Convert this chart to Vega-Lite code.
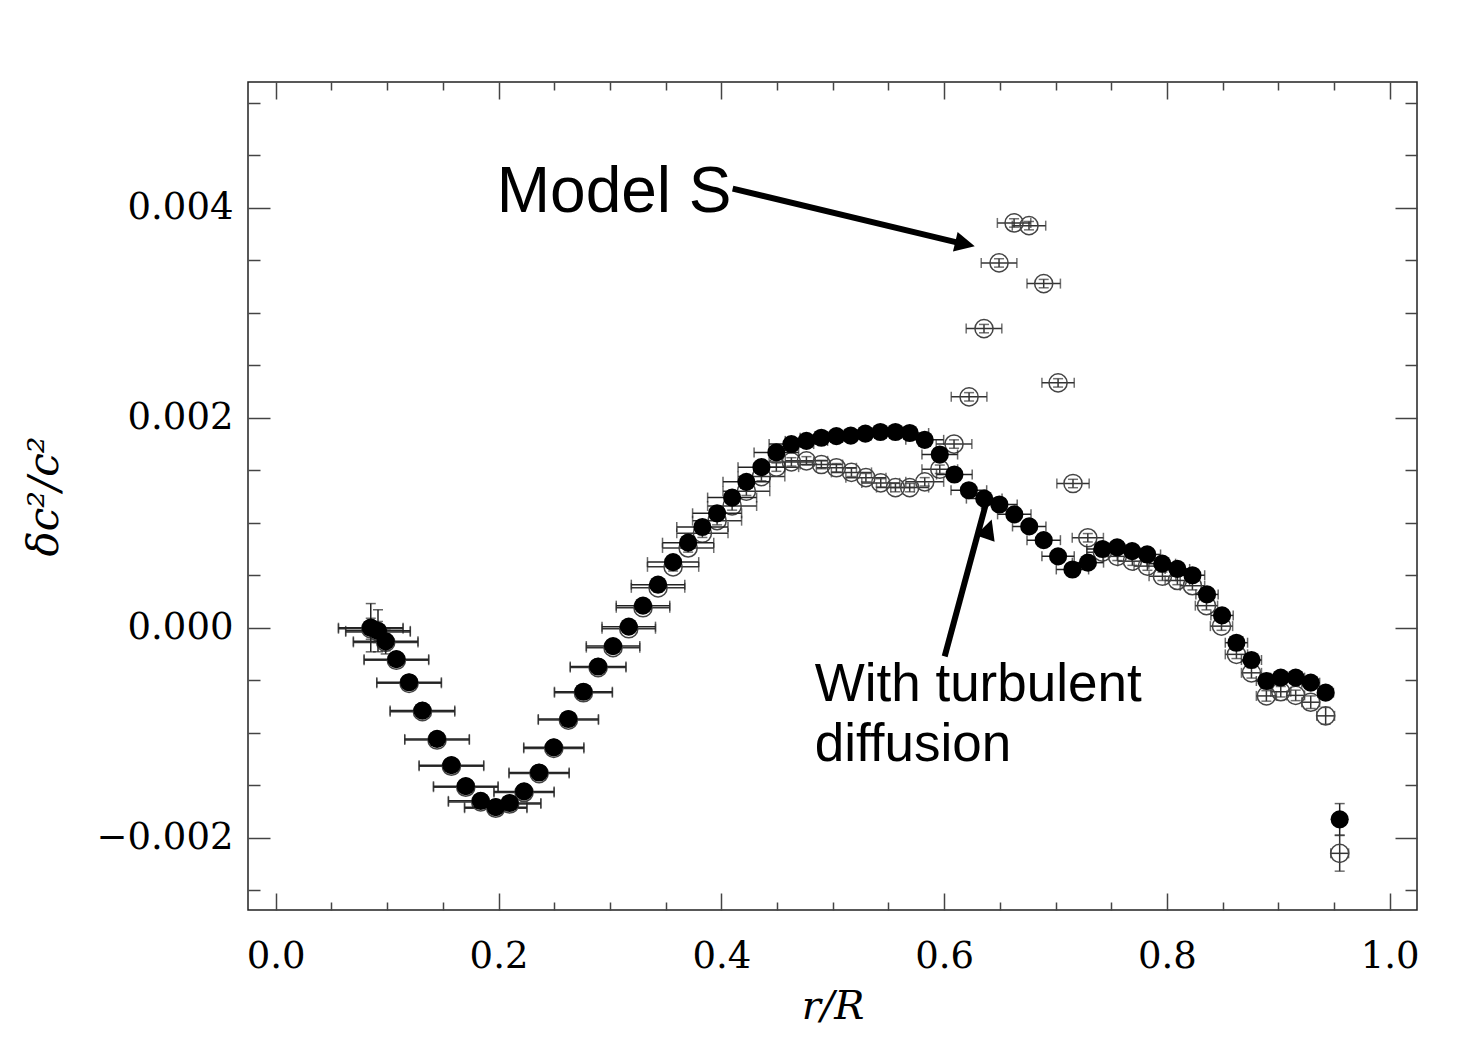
{
  "$schema": "https://vega.github.io/schema/vega-lite/v6.json",
  "width": 1169,
  "height": 828,
  "autosize": {"type": "none"},
  "padding": {"left": 248, "top": 82, "right": 63, "bottom": 149},
  "background": "white",
  "config": {"view": {"stroke": "#222", "strokeWidth": 1.5}},
  "datasets": {
    "open": [
      {"r": 0.0853, "v": -0.00001, "dr": 0.029, "dv": 0.0001},
      {"r": 0.0918, "v": -0.00004, "dr": 0.029, "dv": 0.0001},
      {"r": 0.0987, "v": -0.00014, "dr": 0.029, "dv": 0.00008},
      {"r": 0.1083, "v": -0.00031, "dr": 0.029, "dv": 0.00005},
      {"r": 0.1197, "v": -0.00053, "dr": 0.029, "dv": 0.00004},
      {"r": 0.1317, "v": -0.0008, "dr": 0.029, "dv": 0.00004},
      {"r": 0.1448, "v": -0.00107, "dr": 0.029, "dv": 0.00004},
      {"r": 0.1577, "v": -0.00132, "dr": 0.029, "dv": 0.00004},
      {"r": 0.1706, "v": -0.00152, "dr": 0.029, "dv": 0.00004},
      {"r": 0.184, "v": -0.00166, "dr": 0.029, "dv": 0.00004},
      {"r": 0.1975, "v": -0.00172, "dr": 0.028, "dv": 0.00004},
      {"r": 0.21, "v": -0.00168, "dr": 0.028, "dv": 0.00004},
      {"r": 0.2229, "v": -0.00157, "dr": 0.027, "dv": 0.00004},
      {"r": 0.2364, "v": -0.00139, "dr": 0.027, "dv": 0.00004},
      {"r": 0.2496, "v": -0.00115, "dr": 0.027, "dv": 0.00004},
      {"r": 0.2627, "v": -0.00088, "dr": 0.027, "dv": 0.00004},
      {"r": 0.2762, "v": -0.00062, "dr": 0.026, "dv": 0.00004},
      {"r": 0.2894, "v": -0.00038, "dr": 0.025, "dv": 0.00004},
      {"r": 0.3028, "v": -0.00019, "dr": 0.024, "dv": 0.00004},
      {"r": 0.3169, "v": -0.00001, "dr": 0.024, "dv": 0.00004},
      {"r": 0.3297, "v": 0.00019, "dr": 0.024, "dv": 0.00004},
      {"r": 0.3432, "v": 0.00038, "dr": 0.024, "dv": 0.00004},
      {"r": 0.3567, "v": 0.00058, "dr": 0.023, "dv": 0.00004},
      {"r": 0.3702, "v": 0.00076, "dr": 0.023, "dv": 0.00004},
      {"r": 0.383, "v": 0.0009, "dr": 0.023, "dv": 0.00004},
      {"r": 0.3962, "v": 0.00102, "dr": 0.022, "dv": 0.00004},
      {"r": 0.4097, "v": 0.00116, "dr": 0.022, "dv": 0.00004},
      {"r": 0.4225, "v": 0.0013, "dr": 0.021, "dv": 0.00004},
      {"r": 0.436, "v": 0.00144, "dr": 0.021, "dv": 0.00004},
      {"r": 0.4494, "v": 0.00153, "dr": 0.02, "dv": 0.00004},
      {"r": 0.4629, "v": 0.00158, "dr": 0.02, "dv": 0.00004},
      {"r": 0.4764, "v": 0.00159, "dr": 0.019, "dv": 0.00004},
      {"r": 0.4898, "v": 0.001555, "dr": 0.019, "dv": 0.00004},
      {"r": 0.5033, "v": 0.001524, "dr": 0.018, "dv": 0.00004},
      {"r": 0.5168, "v": 0.00148, "dr": 0.018, "dv": 0.00004},
      {"r": 0.5298, "v": 0.00143, "dr": 0.018, "dv": 0.00004},
      {"r": 0.5431, "v": 0.00138, "dr": 0.017, "dv": 0.00004},
      {"r": 0.5563, "v": 0.001335, "dr": 0.017, "dv": 0.00004},
      {"r": 0.5691, "v": 0.001335, "dr": 0.017, "dv": 0.00004},
      {"r": 0.5826, "v": 0.00139, "dr": 0.017, "dv": 0.00004},
      {"r": 0.5961, "v": 0.00151, "dr": 0.016, "dv": 0.00004},
      {"r": 0.6089, "v": 0.00175, "dr": 0.016, "dv": 0.00004},
      {"r": 0.6224, "v": 0.0022, "dr": 0.016, "dv": 0.00004},
      {"r": 0.6358, "v": 0.00285, "dr": 0.016, "dv": 0.00004},
      {"r": 0.6493, "v": 0.003476, "dr": 0.016, "dv": 0.00004},
      {"r": 0.6628, "v": 0.003857, "dr": 0.015, "dv": 0.00004},
      {"r": 0.6762, "v": 0.003831, "dr": 0.015, "dv": 0.00004},
      {"r": 0.6894, "v": 0.003279, "dr": 0.015, "dv": 0.00004},
      {"r": 0.7023, "v": 0.002333, "dr": 0.0145, "dv": 0.00004},
      {"r": 0.7157, "v": 0.001374, "dr": 0.0145, "dv": 0.00004},
      {"r": 0.729, "v": 0.000857, "dr": 0.014, "dv": 0.00004},
      {"r": 0.7421, "v": 0.00072, "dr": 0.014, "dv": 0.00004},
      {"r": 0.7555, "v": 0.00068, "dr": 0.013, "dv": 0.00004},
      {"r": 0.769, "v": 0.000634, "dr": 0.013, "dv": 0.00004},
      {"r": 0.7825, "v": 0.000587, "dr": 0.012, "dv": 0.00004},
      {"r": 0.796, "v": 0.00049, "dr": 0.012, "dv": 0.00004},
      {"r": 0.8094, "v": 0.00045, "dr": 0.011, "dv": 0.00004},
      {"r": 0.8229, "v": 0.0004, "dr": 0.011, "dv": 0.00004},
      {"r": 0.8355, "v": 0.00021, "dr": 0.01, "dv": 0.00004},
      {"r": 0.849, "v": 0.000015, "dr": 0.01, "dv": 0.00004},
      {"r": 0.8624, "v": -0.000254, "dr": 0.01, "dv": 0.00004},
      {"r": 0.8759, "v": -0.00043, "dr": 0.009, "dv": 0.00005},
      {"r": 0.8893, "v": -0.00065, "dr": 0.009, "dv": 0.00005},
      {"r": 0.9022, "v": -0.00061, "dr": 0.009, "dv": 0.00005},
      {"r": 0.9156, "v": -0.000645, "dr": 0.008, "dv": 0.00005},
      {"r": 0.9291, "v": -0.00071, "dr": 0.008, "dv": 0.00006},
      {"r": 0.9425, "v": -0.00084, "dr": 0.008, "dv": 0.00008},
      {"r": 0.9551, "v": -0.00215, "dr": 0.008, "dv": 0.00017}
    ],
    "filled": [
      {"r": 0.0853, "v": 0.0, "dr": 0.029, "dv": 0.00023},
      {"r": 0.0918, "v": -0.00003, "dr": 0.029, "dv": 0.0002},
      {"r": 0.0987, "v": -0.00013, "dr": 0.029, "dv": 0.00012},
      {"r": 0.1083, "v": -0.0003, "dr": 0.029, "dv": 0.00004},
      {"r": 0.1197, "v": -0.00052, "dr": 0.029, "dv": 0.00003},
      {"r": 0.1317, "v": -0.00079, "dr": 0.029, "dv": 0.00003},
      {"r": 0.1448, "v": -0.00106, "dr": 0.029, "dv": 0.00003},
      {"r": 0.1577, "v": -0.00131, "dr": 0.029, "dv": 0.00003},
      {"r": 0.1706, "v": -0.00151, "dr": 0.029, "dv": 0.00003},
      {"r": 0.184, "v": -0.00165, "dr": 0.029, "dv": 0.00003},
      {"r": 0.1975, "v": -0.00171, "dr": 0.028, "dv": 0.00003},
      {"r": 0.21, "v": -0.00167, "dr": 0.028, "dv": 0.00003},
      {"r": 0.2229, "v": -0.00156, "dr": 0.027, "dv": 0.00003},
      {"r": 0.2364, "v": -0.00138, "dr": 0.027, "dv": 0.00003},
      {"r": 0.2496, "v": -0.00114, "dr": 0.027, "dv": 0.00003},
      {"r": 0.2627, "v": -0.00087, "dr": 0.027, "dv": 0.00003},
      {"r": 0.2762, "v": -0.00061, "dr": 0.026, "dv": 0.00003},
      {"r": 0.2894, "v": -0.00037, "dr": 0.025, "dv": 0.00003},
      {"r": 0.3028, "v": -0.000175, "dr": 0.024, "dv": 0.00003},
      {"r": 0.3169, "v": 0.00001, "dr": 0.024, "dv": 0.00003},
      {"r": 0.3297, "v": 0.00021, "dr": 0.024, "dv": 0.00003},
      {"r": 0.3432, "v": 0.00041, "dr": 0.024, "dv": 0.00003},
      {"r": 0.3567, "v": 0.000625, "dr": 0.023, "dv": 0.00003},
      {"r": 0.3702, "v": 0.00081, "dr": 0.023, "dv": 0.00003},
      {"r": 0.383, "v": 0.00096, "dr": 0.023, "dv": 0.00003},
      {"r": 0.3962, "v": 0.00109, "dr": 0.022, "dv": 0.00003},
      {"r": 0.4097, "v": 0.00124, "dr": 0.022, "dv": 0.00003},
      {"r": 0.4225, "v": 0.00139, "dr": 0.021, "dv": 0.00003},
      {"r": 0.436, "v": 0.00153, "dr": 0.021, "dv": 0.00003},
      {"r": 0.4494, "v": 0.00167, "dr": 0.02, "dv": 0.00003},
      {"r": 0.4629, "v": 0.00175, "dr": 0.02, "dv": 0.00003},
      {"r": 0.4764, "v": 0.00178, "dr": 0.019, "dv": 0.00003},
      {"r": 0.4898, "v": 0.00181, "dr": 0.019, "dv": 0.00003},
      {"r": 0.5033, "v": 0.001825, "dr": 0.018, "dv": 0.00003},
      {"r": 0.5162, "v": 0.00183, "dr": 0.018, "dv": 0.00003},
      {"r": 0.5293, "v": 0.00185, "dr": 0.018, "dv": 0.00003},
      {"r": 0.5428, "v": 0.001865, "dr": 0.017, "dv": 0.00003},
      {"r": 0.5563, "v": 0.001865, "dr": 0.017, "dv": 0.00003},
      {"r": 0.5691, "v": 0.001855, "dr": 0.017, "dv": 0.00003},
      {"r": 0.5826, "v": 0.00179, "dr": 0.017, "dv": 0.00003},
      {"r": 0.5961, "v": 0.00165, "dr": 0.016, "dv": 0.00003},
      {"r": 0.6092, "v": 0.00146, "dr": 0.016, "dv": 0.00003},
      {"r": 0.6222, "v": 0.00131, "dr": 0.016, "dv": 0.00003},
      {"r": 0.636, "v": 0.00123, "dr": 0.016, "dv": 0.00003},
      {"r": 0.6496, "v": 0.001174, "dr": 0.016, "dv": 0.00003},
      {"r": 0.663, "v": 0.00108, "dr": 0.015, "dv": 0.00003},
      {"r": 0.6764, "v": 0.000965, "dr": 0.015, "dv": 0.00003},
      {"r": 0.6894, "v": 0.000834, "dr": 0.015, "dv": 0.00003},
      {"r": 0.7023, "v": 0.00068, "dr": 0.0145, "dv": 0.00003},
      {"r": 0.7152, "v": 0.000555, "dr": 0.0145, "dv": 0.00003},
      {"r": 0.7291, "v": 0.00062, "dr": 0.014, "dv": 0.00003},
      {"r": 0.7421, "v": 0.00075, "dr": 0.014, "dv": 0.00003},
      {"r": 0.7553, "v": 0.000765, "dr": 0.013, "dv": 0.00003},
      {"r": 0.7688, "v": 0.00073, "dr": 0.013, "dv": 0.00003},
      {"r": 0.7823, "v": 0.000698, "dr": 0.012, "dv": 0.00003},
      {"r": 0.7958, "v": 0.00061, "dr": 0.012, "dv": 0.00003},
      {"r": 0.8094, "v": 0.00056, "dr": 0.011, "dv": 0.00003},
      {"r": 0.8229, "v": 0.0005, "dr": 0.011, "dv": 0.00003},
      {"r": 0.836, "v": 0.000317, "dr": 0.01, "dv": 0.00003},
      {"r": 0.8495, "v": 0.000117, "dr": 0.01, "dv": 0.00003},
      {"r": 0.8624, "v": -0.000143, "dr": 0.01, "dv": 0.00003},
      {"r": 0.8759, "v": -0.000308, "dr": 0.009, "dv": 0.00003},
      {"r": 0.8893, "v": -0.000508, "dr": 0.009, "dv": 0.00004},
      {"r": 0.9022, "v": -0.000476, "dr": 0.009, "dv": 0.00004},
      {"r": 0.9156, "v": -0.000476, "dr": 0.008, "dv": 0.00004},
      {"r": 0.9291, "v": -0.000524, "dr": 0.008, "dv": 0.00005},
      {"r": 0.9425, "v": -0.000619, "dr": 0.007, "dv": 0.00006},
      {"r": 0.9551, "v": -0.001826, "dr": 0.006, "dv": 0.00015}
    ],
    "arrows": [
      {"r": 0.4102, "v": 0.004184, "r2": 0.616, "v2": 0.00366},
      {"r": 0.6005, "v": -0.000273, "r2": 0.6375, "v2": 0.00118}
    ],
    "heads": [
      {"r": 0.6275, "v": 0.003634, "ang": 13.4},
      {"r": 0.6427, "v": 0.001031, "ang": 289}
    ],
    "notes": [
      {"r": 0.1984, "v": 0.003965, "txt": ["Model S"], "fs": 64},
      {"r": 0.4838, "v": -0.000702, "txt": ["With turbulent", "diffusion"], "fs": 53}
    ]
  },
  "resolve": {"axis": {"x": "independent", "y": "independent"}},
  "layer": [
    {
      "mark": {"type": "rule", "strokeDash": [5, 4], "strokeWidth": 1, "color": "#000"},
      "encoding": {
        "y": {"datum": 0, "type": "quantitative", "scale": {"domain": [-0.00269, 0.0052], "nice": false, "zero": false}, "axis": null}
      }
    },
    {
      "data": {"name": "open"},
      "mark": {"type": "errorbar", "ticks": true, "size": 10, "thickness": 1.5, "color": "#333"},
      "encoding": {
        "x": {"field": "r", "type": "quantitative", "scale": {"domain": [-0.0249, 1.0245], "nice": false, "zero": false}, "axis": null},
        "xError": {"field": "dr"},
        "y": {"field": "v", "type": "quantitative", "scale": {"domain": [-0.00269, 0.0052], "nice": false, "zero": false}, "axis": null}
      }
    },
    {
      "data": {"name": "open"},
      "mark": {"type": "errorbar", "ticks": true, "size": 10, "thickness": 1.5, "color": "#333"},
      "encoding": {
        "x": {"field": "r", "type": "quantitative", "scale": {"domain": [-0.0249, 1.0245], "nice": false, "zero": false}, "axis": null},
        "y": {"field": "v", "type": "quantitative", "scale": {"domain": [-0.00269, 0.0052], "nice": false, "zero": false}, "axis": null},
        "yError": {"field": "dv"}
      }
    },
    {
      "data": {"name": "open"},
      "mark": {"type": "point", "shape": "circle", "size": 330, "filled": false, "stroke": "#444", "strokeWidth": 1.5, "opacity": 1},
      "encoding": {
        "x": {"field": "r", "type": "quantitative", "scale": {"domain": [-0.0249, 1.0245], "nice": false, "zero": false},
          "axis": {"orient": "bottom", "values": [0, 0.2, 0.4, 0.6, 0.8, 1], "format": ".1f", "ticks": false, "tickSize": 0, "domain": false, "grid": false,
            "labelFont": "DejaVu Serif", "labelFontSize": 37, "labelColor": "#000", "labelPadding": 28, "labelFlush": false, "labelOverlap": false,
            "title": "r/R", "titleFont": "DejaVu Serif", "titleFontStyle": "italic", "titleFontWeight": "normal", "titleFontSize": 40, "titleColor": "#000", "titlePadding": 12}},
        "y": {"field": "v", "type": "quantitative", "scale": {"domain": [-0.00269, 0.0052], "nice": false, "zero": false},
          "axis": {"orient": "left", "values": [-0.002, 0, 0.002, 0.004], "format": ".3f", "ticks": false, "tickSize": 0, "domain": false, "grid": false,
            "labelFont": "DejaVu Serif", "labelFontSize": 37, "labelColor": "#000", "labelPadding": 15, "labelOverlap": false,
            "title": "δc²/c²", "titleFont": "DejaVu Serif", "titleFontStyle": "italic", "titleFontWeight": "normal", "titleFontSize": 42, "titleColor": "#000", "titlePadding": 30}}
      }
    },
    {
      "data": {"name": "filled"},
      "mark": {"type": "errorbar", "ticks": true, "size": 10, "thickness": 1.5, "color": "#222"},
      "encoding": {
        "x": {"field": "r", "type": "quantitative", "scale": {"domain": [-0.0249, 1.0245], "nice": false, "zero": false}, "axis": null},
        "xError": {"field": "dr"},
        "y": {"field": "v", "type": "quantitative", "scale": {"domain": [-0.00269, 0.0052], "nice": false, "zero": false}, "axis": null}
      }
    },
    {
      "data": {"name": "filled"},
      "mark": {"type": "errorbar", "ticks": true, "size": 10, "thickness": 1.5, "color": "#222"},
      "encoding": {
        "x": {"field": "r", "type": "quantitative", "scale": {"domain": [-0.0249, 1.0245], "nice": false, "zero": false}, "axis": null},
        "y": {"field": "v", "type": "quantitative", "scale": {"domain": [-0.00269, 0.0052], "nice": false, "zero": false}, "axis": null},
        "yError": {"field": "dv"}
      }
    },
    {
      "data": {"name": "filled"},
      "mark": {"type": "point", "shape": "circle", "size": 330, "filled": true, "color": "#000", "opacity": 1},
      "encoding": {
        "x": {"field": "r", "type": "quantitative", "scale": {"domain": [-0.0249, 1.0245], "nice": false, "zero": false},
          "axis": {"orient": "bottom", "values": [0, 0.05, 0.1, 0.15, 0.2, 0.25, 0.3, 0.35, 0.4, 0.45, 0.5, 0.55, 0.6, 0.65, 0.7, 0.75, 0.8, 0.85, 0.9, 0.95, 1],
            "labels": false, "domain": false, "grid": false, "title": null, "tickColor": "#444", "tickWidth": 1.5,
            "tickSize": {"condition": {"test": "abs(datum.value/0.2 - round(datum.value/0.2)) < 0.01", "value": -17}, "value": -8}}},
        "y": {"field": "v", "type": "quantitative", "scale": {"domain": [-0.00269, 0.0052], "nice": false, "zero": false},
          "axis": {"orient": "left", "values": [-0.0025, -0.002, -0.0015, -0.001, -0.0005, 0, 0.0005, 0.001, 0.0015, 0.002, 0.0025, 0.003, 0.0035, 0.004, 0.0045, 0.005],
            "labels": false, "domain": false, "grid": false, "title": null, "tickColor": "#444", "tickWidth": 1.5,
            "tickSize": {"condition": {"test": "abs(datum.value/0.002 - round(datum.value/0.002)) < 0.01", "value": -22}, "value": -12}}}
      }
    },
    {
      "data": {"name": "arrows"},
      "mark": {"type": "rule", "strokeWidth": 6, "color": "#000", "strokeCap": "butt"},
      "encoding": {
        "x": {"field": "r", "type": "quantitative", "scale": {"domain": [-0.0249, 1.0245], "nice": false, "zero": false},
          "axis": {"orient": "top", "values": [0, 0.05, 0.1, 0.15, 0.2, 0.25, 0.3, 0.35, 0.4, 0.45, 0.5, 0.55, 0.6, 0.65, 0.7, 0.75, 0.8, 0.85, 0.9, 0.95, 1],
            "labels": false, "domain": false, "grid": false, "title": null, "tickColor": "#444", "tickWidth": 1.5,
            "tickSize": {"condition": {"test": "abs(datum.value/0.2 - round(datum.value/0.2)) < 0.01", "value": -17}, "value": -8}}},
        "x2": {"field": "r2"},
        "y": {"field": "v", "type": "quantitative", "scale": {"domain": [-0.00269, 0.0052], "nice": false, "zero": false},
          "axis": {"orient": "right", "values": [-0.0025, -0.002, -0.0015, -0.001, -0.0005, 0, 0.0005, 0.001, 0.0015, 0.002, 0.0025, 0.003, 0.0035, 0.004, 0.0045, 0.005],
            "labels": false, "domain": false, "grid": false, "title": null, "tickColor": "#444", "tickWidth": 1.5,
            "tickSize": {"condition": {"test": "abs(datum.value/0.002 - round(datum.value/0.002)) < 0.01", "value": -22}, "value": -12}}},
        "y2": {"field": "v2"}
      }
    },
    {
      "data": {"name": "heads"},
      "mark": {"type": "point", "shape": "M0,0L-1,-0.5L-1,0.5Z", "size": 1600, "filled": true, "color": "#000", "opacity": 1, "strokeWidth": 0},
      "encoding": {
        "x": {"field": "r", "type": "quantitative", "scale": {"domain": [-0.0249, 1.0245], "nice": false, "zero": false}, "axis": null},
        "y": {"field": "v", "type": "quantitative", "scale": {"domain": [-0.00269, 0.0052], "nice": false, "zero": false}, "axis": null},
        "angle": {"field": "ang", "type": "quantitative", "scale": null}
      }
    },
    {
      "data": {"name": "notes"},
      "mark": {"type": "text", "align": "left", "baseline": "alphabetic", "font": "Liberation Sans", "color": "#000", "lineHeight": 60},
      "encoding": {
        "x": {"field": "r", "type": "quantitative", "scale": {"domain": [-0.0249, 1.0245], "nice": false, "zero": false}, "axis": null},
        "y": {"field": "v", "type": "quantitative", "scale": {"domain": [-0.00269, 0.0052], "nice": false, "zero": false}, "axis": null},
        "text": {"field": "txt"},
        "size": {"field": "fs", "type": "quantitative", "scale": null}
      }
    }
  ]
}
